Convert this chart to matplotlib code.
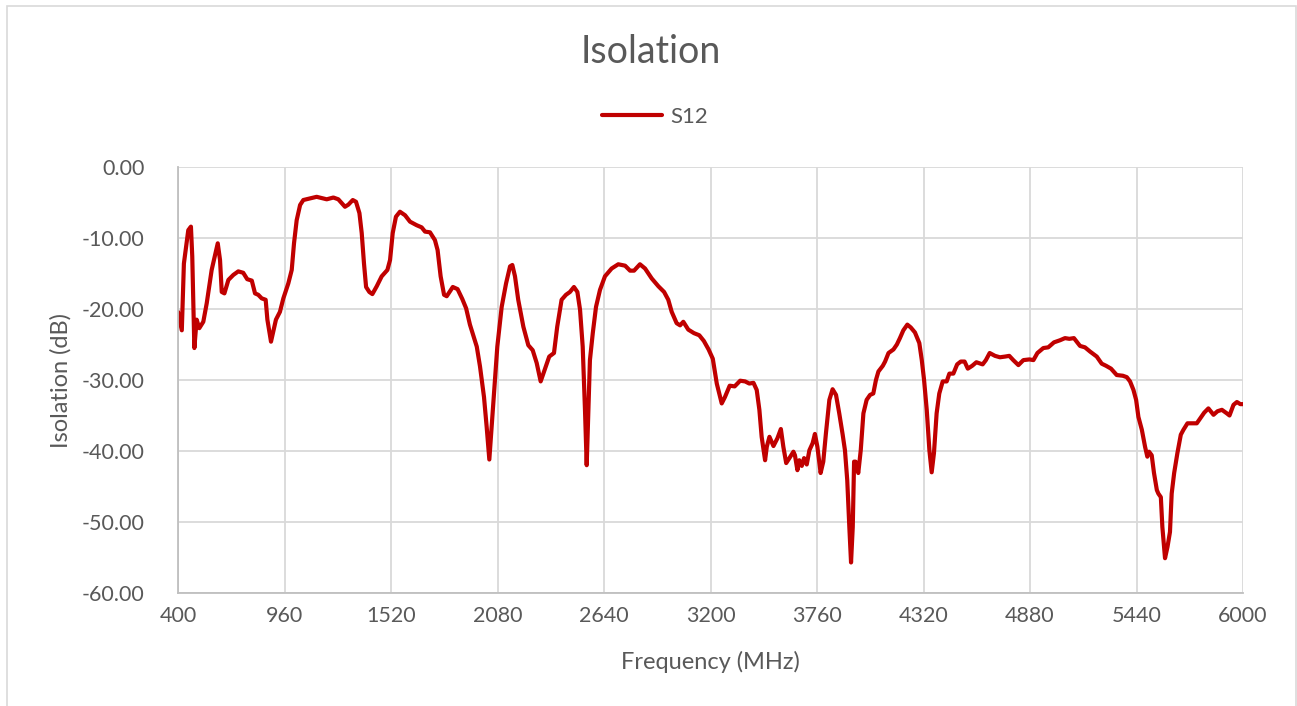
import matplotlib
matplotlib.use("Agg")
import matplotlib.pyplot as plt
from matplotlib.patches import Rectangle

# S12 isolation (MHz, dB)
freq = [400, 420, 431, 454, 468, 475, 486, 498, 512, 533, 551, 577, 609, 621, 630, 644,
        665, 691, 717, 743, 764, 788, 805, 822, 840, 861, 870, 889, 915, 936, 954, 980,
        998, 1010, 1024, 1042, 1059, 1112, 1129, 1182, 1217, 1243, 1278, 1296, 1319, 1336,
        1354, 1366, 1378, 1389, 1406, 1422, 1445, 1471, 1501, 1515, 1529, 1546, 1567, 1594,
        1620, 1655, 1681, 1699, 1725, 1751, 1765, 1781, 1799, 1813, 1845, 1870, 1895, 1915,
        1935, 1971, 1988, 2009, 2023, 2037, 2049, 2062, 2079, 2102, 2125, 2146, 2158, 2172,
        2189, 2216, 2242, 2265, 2286, 2307, 2330, 2352, 2377, 2394, 2417, 2440, 2461, 2482,
        2500, 2514, 2528, 2540, 2549, 2558, 2566, 2581, 2598, 2619, 2645, 2680, 2715, 2751,
        2777, 2798, 2829, 2856, 2891, 2926, 2956, 2978, 2996, 3022, 3040, 3057, 3083, 3113,
        3141, 3165, 3190, 3212, 3233, 3259, 3276, 3301, 3327, 3356, 3382, 3404, 3426, 3443,
        3457, 3469, 3487, 3496, 3510, 3531, 3552, 3570, 3583, 3598, 3615, 3636, 3644, 3657,
        3667, 3680, 3692, 3706, 3720, 3737, 3749, 3762, 3779, 3793, 3807, 3825, 3842, 3860,
        3877, 3895, 3907, 3919, 3930, 3939, 3948, 3955, 3963, 3977, 3990, 4004, 4021, 4039,
        4056, 4070, 4083, 4106, 4118, 4136, 4162, 4180, 4196, 4214, 4235, 4253, 4275, 4298,
        4311, 4323, 4337, 4351, 4363, 4375, 4389, 4403, 4421, 4442, 4456, 4477, 4497, 4516,
        4536, 4553, 4576, 4598, 4631, 4648, 4668, 4696, 4722, 4749, 4771, 4792, 4819, 4845,
        4877, 4898, 4919, 4950, 4976, 5006, 5038, 5064, 5087, 5111, 5143, 5169, 5196, 5231,
        5257, 5280, 5306, 5336, 5368, 5389, 5406, 5424, 5438, 5450, 5468, 5485, 5497, 5506,
        5520, 5532, 5547, 5555, 5568, 5576, 5590, 5603, 5616, 5625, 5638, 5655, 5673, 5687,
        5708, 5731, 5757, 5778, 5796, 5818, 5845, 5866, 5889, 5915, 5929, 5950, 5968, 5986,
        6000]
s12 = [-20.4, -23.0, -13.6, -8.9, -8.4, -12.6, -25.5, -21.5, -22.7, -21.8, -19.2, -14.5, -10.75, -13.1, -17.6, -17.8,
       -15.9, -15.2, -14.7, -14.9, -15.8, -16.0, -17.8, -18.0, -18.5, -18.7, -21.5, -24.6, -21.5, -20.4, -18.5, -16.4,
       -14.5, -10.75, -7.5, -5.35, -4.65, -4.3, -4.2, -4.55, -4.3, -4.55, -5.6, -5.3, -4.65, -4.9,
       -6.5, -9.3, -13.6, -16.9, -17.6, -17.9, -16.8, -15.4, -14.5, -13.1, -9.3, -7.0, -6.3, -6.8,
       -7.7, -8.2, -8.5, -9.1, -9.2, -10.3, -11.7, -15.4, -18.0, -18.2, -16.9, -17.2, -18.6, -19.9,
       -22.2, -25.3, -28.1, -32.4, -36.6, -41.2, -36.6, -31.4, -25.3, -19.7, -16.4, -14.0, -13.8, -15.4,
       -18.7, -22.5, -25.1, -25.8, -27.6, -30.2, -28.4, -26.7, -26.2, -22.5, -18.7, -18.0, -17.6, -16.9,
       -17.6, -20.1, -25.3, -34.2, -42.0, -34.2, -27.2, -23.4, -19.7, -17.3, -15.4, -14.3, -13.7, -13.9,
       -14.6, -14.6, -13.7, -14.3, -15.7, -16.8, -17.6, -18.7, -20.4, -22.0, -22.3, -21.8, -22.9, -23.4,
       -23.7, -24.5, -25.7, -27.0, -30.5, -33.3, -32.4, -30.8, -30.9, -30.1, -30.2, -30.5, -30.4, -31.4,
       -34.2, -38.0, -41.3, -39.4, -38.0, -39.3, -38.2, -36.9, -39.4, -41.7, -41.0, -40.1, -40.6, -42.7,
       -41.3, -42.1, -41.0, -41.9, -39.9, -38.9, -37.6, -39.4, -43.1, -41.5, -37.5, -32.8, -31.3, -32.1,
       -34.7, -37.7, -39.9, -44.1, -50.7, -55.7, -50.7, -41.5, -41.5, -43.1, -39.9, -34.7, -32.8, -32.1,
       -31.9, -30.0, -28.8, -28.0, -27.4, -26.2, -25.7, -25.0, -24.1, -23.0, -22.2, -22.6, -23.3, -24.8,
       -27.2, -30.0, -34.2, -39.9, -43.0, -40.3, -34.7, -31.9, -30.2, -30.2, -29.1, -29.1, -27.8, -27.4,
       -27.4, -28.4, -28.0, -27.5, -27.8, -27.2, -26.2, -26.6, -26.8, -26.7, -26.6, -27.2, -27.9, -27.2,
       -27.1, -27.2, -26.2, -25.5, -25.4, -24.7, -24.4, -24.1, -24.2, -24.1, -25.2, -25.4, -26.0, -26.7,
       -27.7, -28.0, -28.4, -29.3, -29.4, -29.6, -30.2, -31.4, -32.8, -35.2, -37.0, -39.4, -40.8, -40.1,
       -40.6, -43.1, -45.5, -46.0, -46.5, -50.7, -55.1, -53.5, -51.4, -46.0, -43.1, -40.3, -37.7, -37.0,
       -36.1, -36.1, -36.1, -35.3, -34.6, -34.0, -34.9, -34.4, -34.2, -34.7, -35.0, -33.5, -33.1, -33.4,
       -33.4]

xticks = list(range(400, 6001, 560))
yticks = list(range(-60, 1, 10))

plt.rcParams['font.family'] = ['Lato', 'DejaVu Sans']
text_col = '#595959'

fig = plt.figure(figsize=(12.97, 7.06), dpi=100)
# chart frame
fig.patches.append(Rectangle((7 / 1297, -0.05), 1289 / 1297, 1 - 6 / 706 + 0.05,
                             transform=fig.transFigure, fill=False,
                             edgecolor='#D9D9D9', linewidth=1.2))

ax = fig.add_axes([178 / 1297, 1 - 593 / 706, 1065 / 1297, 426 / 706])
ax.plot(freq, s12, color='#C00000', linewidth=3.0, label='S12',
        solid_joinstyle='round', solid_capstyle='round')

ax.set_xlim(400, 6000)
ax.set_ylim(-60, 0)
ax.set_xticks(xticks)
ax.set_yticks(yticks)
ax.set_yticklabels([f'{v:.2f}' for v in yticks])
ax.grid(True, color='#D9D9D9', linewidth=1.3)
ax.set_axisbelow(True)
for side in ['top', 'right']:
    ax.spines[side].set_visible(False)
for side in ['left', 'bottom']:
    ax.spines[side].set_color('#BFBFBF')
    ax.spines[side].set_linewidth(1.3)
ax.tick_params(length=0, labelsize=15.5, colors=text_col, pad=9)
ax.tick_params(axis='y', pad=24)

ax.set_xlabel('Frequency (MHz)', fontsize=17, color=text_col, labelpad=18)
ax.set_ylabel('Isolation (dB)', fontsize=17, color=text_col, labelpad=7)

fig.text(651 / 1297, 1 - 52 / 706, 'Isolation', ha='center', va='center',
         fontsize=27, color=text_col)
fig.legend(loc='center', bbox_to_anchor=(655 / 1297, 1 - 117 / 706), frameon=False,
           fontsize=16, labelcolor=text_col, handlelength=2.7, handletextpad=0.4)

fig.savefig('out.png', dpi=100)
